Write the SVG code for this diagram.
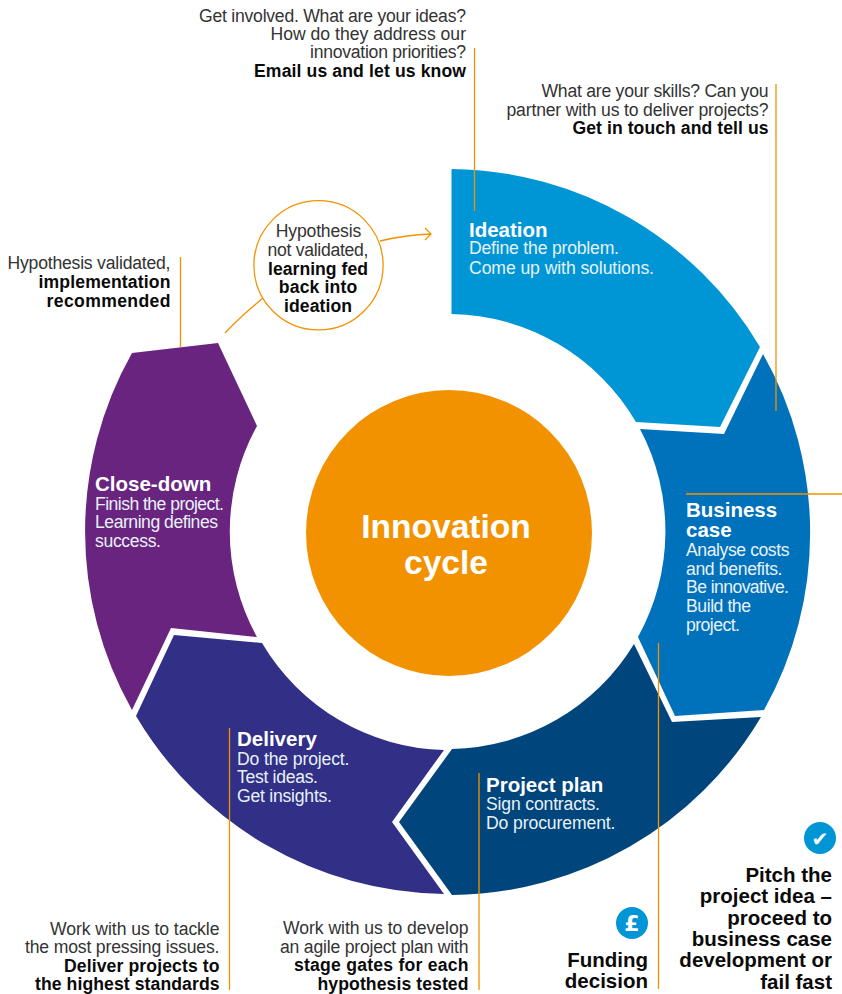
<svg xmlns="http://www.w3.org/2000/svg" width="842" height="994" viewBox="0 0 842 994">
<style>
text{font-family:"Liberation Sans",Arial,sans-serif;font-size:17.6px;fill:#333}
.b{font-weight:700;fill:#0a0a0a}
.r{text-anchor:end}
.w{fill:#e8f1f8}
.h{font-weight:700;fill:#fff;font-size:20.5px}
.c{text-anchor:middle}
.k{font-size:20.5px}
.l{stroke:#f39200;stroke-width:1.3;fill:none}
</style>
<rect width="842" height="994" fill="#fff"/>
<g id="ideation"><path d="M451.5 169A363 363 0 0 1 760 347L720 427L636 422A218 218 0 0 0 451.5 314Z" fill="#0096d6"/>
<text class="h" x="469" y="236.5">Ideation</text><text class="w" x="469" y="254" textLength="150">Define the problem.</text><text class="w" x="469" y="274" textLength="185">Come up with solutions.</text></g>
<g id="business-case"><path d="M763 354A363 363 0 0 1 764 710L675 716L638 637A218 218 0 0 0 640 429L724 434Z" fill="#0071bb"/>
<text class="h" x="686" y="517">Business</text><text class="h" x="686" y="537">case</text>
<text class="w" x="686" y="556" textLength="103.5">Analyse costs</text><text class="w" x="686" y="575" textLength="96.5">and benefits.</text><text class="w" x="686" y="593" textLength="103">Be innovative.</text><text class="w" x="686" y="612" textLength="65">Build the</text><text class="w" x="686" y="631" textLength="54">project.</text></g>
<g id="project-plan"><path d="M761 717A363 363 0 0 1 452 895L399 822L452 749A218 218 0 0 0 634 644L672 722Z" fill="#00457c"/>
<text class="h" x="486" y="792">Project plan</text><text class="w" x="486" y="810" textLength="114">Sign contracts.</text><text class="w" x="486" y="829" textLength="129.5">Do procurement.</text></g>
<g id="delivery"><path d="M444 894A363 363 0 0 1 136 716L174 635L262 643A218 218 0 0 0 444 750L392 822Z" fill="#312f86"/>
<text class="h" x="237" y="746">Delivery</text><text class="w" x="237" y="765" textLength="112.5">Do the project.</text><text class="w" x="237" y="783" textLength="81">Test ideas.</text><text class="w" x="237" y="802" textLength="95">Get insights.</text></g>
<g id="close-down"><path d="M132 710A363 363 0 0 1 132 353L218 343L257 426A218 218 0 0 0 257 637L171 628Z" fill="#68247f"/>
<text class="h" x="95" y="491">Close-down</text><text class="w" x="95" y="510" textLength="129">Finish the project.</text><text class="w" x="95" y="528" textLength="123">Learning defines</text><text class="w" x="95" y="547" textLength="66">success.</text></g>
<g id="centre"><circle cx="449" cy="533" r="143" fill="#f39200"/>
<text class="c" x="446" y="538" style="font-size:33.6px;font-weight:700;fill:#fff">Innovation</text><text class="c" x="446" y="574" style="font-size:33.6px;font-weight:700;fill:#fff">cycle</text></g>
<g id="connectors">
<path class="l" d="M474.5 48V211M776 84V411M686 494H842M658.5 643V989M479 773V990M229.5 728V990M180.5 257V347"/>
<path class="l" d="M225 333Q240 317 263 298M380 241Q405 235 431 234M425 228L431 234L425 240"/>
</g>
<g id="hypothesis"><circle cx="318.5" cy="265.3" r="64.6" fill="#fff" stroke="#f39200" stroke-width="1.3"/>
<text class="c" x="318.5" y="237" textLength="85.5">Hypothesis</text><text class="c" x="318" y="256" textLength="101">not validated,</text><text class="c b" x="318" y="275" textLength="100">learning fed</text><text class="c b" x="318" y="293" textLength="78.3">back into</text><text class="c b" x="318" y="312" textLength="68">ideation</text></g>
<g id="note-ideas"><text class="r" x="466" y="21.5" textLength="267">Get involved. What are your ideas?</text><text class="r" x="466" y="40" textLength="195.5">How do they address our</text><text class="r" x="466" y="58" textLength="156">innovation priorities?</text><text class="r b" x="466" y="77" textLength="212">Email us and let us know</text></g>
<g id="note-skills"><text class="r" x="768.5" y="97" textLength="227">What are your skills? Can you</text><text class="r" x="768.5" y="116" textLength="262">partner with us to deliver projects?</text><text class="r b" x="768.5" y="134" textLength="196">Get in touch and tell us</text></g>
<g id="note-validated"><text class="r" x="170.5" y="269" textLength="163">Hypothesis validated,</text><text class="r b" x="170.5" y="288" textLength="132">implementation</text><text class="r b" x="170.5" y="307" textLength="124">recommended</text></g>
<g id="note-tackle"><text class="r" x="219.5" y="935" textLength="169.5">Work with us to tackle</text><text class="r" x="219.5" y="953" textLength="194.5">the most pressing issues.</text><text class="r b" x="219.5" y="972" textLength="155.5">Deliver projects to</text><text class="r b" x="219.5" y="990" textLength="184.5">the highest standards</text></g>
<g id="note-plan"><text class="r" x="468.5" y="934" textLength="185.5">Work with us to develop</text><text class="r" x="468.5" y="953" textLength="188.5">an agile project plan with</text><text class="r b" x="468.5" y="971" textLength="174.5">stage gates for each</text><text class="r b" x="468.5" y="990" textLength="151">hypothesis tested</text></g>
<g id="funding"><circle cx="632" cy="923" r="16" fill="#0096d6"/><text class="c" x="632" y="931" style="font-size:22px;font-weight:700;fill:#fff;font-family:'DejaVu Sans'">£</text>
<text class="r b k" x="648" y="967">Funding</text><text class="r b k" x="648" y="988">decision</text></g>
<g id="pitch"><circle cx="820" cy="838" r="16" fill="#0096d6"/><text class="c" x="820" y="846" style="font-size:20px;font-weight:700;fill:#fff;font-family:'DejaVu Sans'">✔</text>
<text class="r b k" x="832" y="882">Pitch the</text><text class="r b k" x="832" y="903">project idea –</text><text class="r b k" x="832" y="925">proceed to</text><text class="r b k" x="832" y="946">business case</text><text class="r b k" x="832" y="967">development or</text><text class="r b k" x="832" y="989">fail fast</text></g>
</svg>
